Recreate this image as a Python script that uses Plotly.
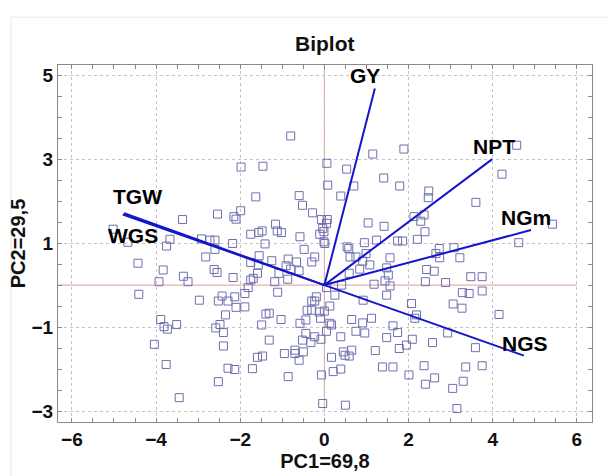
import plotly.graph_objects as go

# Scores (PC1, PC2)
pc1 = [-0.80,-1.98,-1.46,0.06,0.53,1.15,1.89,1.41,1.79,0.08,0.70,4.57,4.22,
       -2.54,-3.37,-3.67,-3.75,-2.92,-2.72,-2.60,-2.60,-2.82,-4.43,-3.83,-3.35,-3.24,-3.93,-2.62,-2.55,-4.41,-2.97,-2.52,-2.43,-2.29,-5.02,-4.67,
       -1.63,-0.60,-0.52,0.39,-1.99,-2.15,-2.10,-0.28,-0.07,0.07,0.05,-0.04,-0.01,-0.11,-1.16,-1.48,-1.56,-1.75,-1.12,-1.02,-0.58,-0.01,0.01,-1.41,-2.18,-0.48,
       1.04,1.42,1.24,0.95,1.74,1.86,0.54,0.58,0.99,-1.55,-0.23,-0.30,-1.25,-0.86,-0.66,-1.75,-1.57,-0.91,-0.80,-0.60,-1.08,-1.59,-1.69,-1.75,-2.17,-0.87,-1.18,
       0.61,0.75,0.91,1.08,0.84,0.59,1.56,1.48,1.52,1.44,1.18,0.41,1.56,0.05,-1.11,-1.81,-1.89,1.48,-0.19,0.25,-0.30,-0.23,0.92,-2.13,
       2.48,2.47,3.60,2.13,2.37,2.29,2.39,2.21,5.42,4.62,2.73,3.08,2.65,2.74,3.22,2.43,2.61,3.48,3.75,2.40,2.88,3.28,3.44,3.75,2.07,3.06,
       -3.89,-3.81,-3.73,-3.51,-4.04,-3.76,-3.45,-2.35,-2.48,-2.58,-2.40,-2.40,-2.29,-2.52,
       -2.13,-2.10,-1.89,-1.39,-1.31,-1.49,-1.03,-0.58,-0.44,-0.41,-0.30,-0.12,0.00,0.13,-0.09,0.13,0.17,0.05,-0.44,-0.23,-0.52,-0.32,-0.08,-1.31,
       0.65,0.39,0.91,1.12,0.75,0.96,1.63,1.74,1.48,1.95,1.78,-0.95,-0.70,-0.70,-0.50,-0.60,-1.59,-1.47,0.17,0.45,0.65,0.49,0.59,1.21,
       -1.71,-0.86,-0.07,0.21,0.39,1.38,1.63,2.01,-0.04,0.50,
       3.27,4.15,2.19,2.15,2.93,2.09,2.57,3.59,2.37,3.36,3.75,2.62,2.40,3.30,3.05,3.15]
pc2 = [3.55,2.81,2.83,2.90,2.76,3.12,3.24,2.55,2.36,2.38,2.36,3.33,2.64,
       1.69,1.56,1.09,0.93,1.10,1.07,1.07,0.85,0.67,0.52,0.36,0.21,0.08,0.08,0.37,0.30,-0.22,-0.36,-0.38,-0.26,-0.38,1.33,1.02,
       2.10,2.13,1.90,2.12,1.77,1.63,1.57,1.72,1.56,1.56,1.47,1.35,1.27,1.21,1.45,1.29,1.25,1.21,1.29,1.25,1.15,1.03,0.99,0.98,0.99,0.85,
       1.48,1.40,1.07,1.01,1.05,1.05,0.91,0.87,0.75,0.70,0.67,0.55,0.58,0.62,0.55,0.54,0.48,0.46,0.38,0.34,0.28,0.28,0.16,0.12,0.18,0.14,0.08,
       0.67,0.67,0.57,0.48,0.38,0.28,0.65,0.41,0.24,0.10,0.02,0.00,-0.02,-0.06,-0.17,-0.06,-0.20,-0.24,-0.28,-0.24,-0.38,-0.38,-0.36,-0.28,
       2.24,2.08,1.97,1.63,1.67,1.52,1.27,1.09,1.45,1.01,0.87,0.89,0.75,0.65,0.65,0.37,0.33,0.20,0.20,0.08,0.06,-0.18,-0.20,-0.14,-0.44,-0.45,
       -0.82,-0.99,-1.05,-0.94,-1.41,-1.89,-2.68,-0.71,-0.94,-1.02,-1.13,-1.45,-1.98,-2.30,
       -2.01,-0.53,-0.52,-0.69,-0.67,-0.95,-0.82,-0.91,-0.83,-0.60,-0.60,-0.64,-0.62,-0.50,-0.79,-0.91,-0.95,-1.10,-1.15,-1.23,-1.31,-1.37,-1.29,-1.31,
       -0.82,-1.23,-0.90,-0.79,-1.10,-1.14,-0.97,-1.13,-1.25,-1.43,-1.51,-1.63,-1.55,-1.63,-1.59,-1.79,-1.72,-1.69,-1.72,-1.59,-1.55,-1.67,-1.69,-1.56,
       -1.99,-2.18,-2.14,-2.06,-2.00,-1.95,-1.95,-2.14,-2.82,-2.86,
       -0.55,-0.70,-0.71,-0.79,-1.14,-1.29,-1.37,-1.49,-1.92,-1.95,-1.92,-2.21,-2.36,-2.29,-2.46,-2.94]

# Loadings (variable vectors)
var_names = ["GY", "NPT", "NGm", "NGS", "TGW", "WGS"]
load_pc1 = [1.20, 3.99, 4.91, 4.74, -4.76, -4.79]
load_pc2 = [4.68, 3.00, 1.31, -1.68, 1.71, 1.68]
# label anchor positions
lab_pc1 = [0.96, 4.02, 4.80, 4.76, -4.45, -4.55]
lab_pc2 = [5.00, 3.30, 1.60, -1.38, 2.12, 1.17]

x_ticks = [-6, -4, -2, 0, 2, 4, 6]
y_ticks = [-3, -1, 1, 3, 5]

FONT = "Liberation Sans, Arial"

fig = go.Figure()
fig.add_trace(go.Scatter(
    x=pc1, y=pc2, mode="markers",
    marker=dict(symbol="square-open", size=8, color="#6f6fb0", line=dict(width=1)),
    showlegend=False, hoverinfo="skip"))

for i, n in enumerate(var_names):
    fig.add_trace(go.Scatter(
        x=[0, load_pc1[i]], y=[0, load_pc2[i]], mode="lines",
        line=dict(color="#1515cc", width=2), showlegend=False, hoverinfo="skip"))
    fig.add_annotation(x=lab_pc1[i], y=lab_pc2[i], text=n, showarrow=False,
                       font=dict(family=FONT, size=21, color="black", weight="bold"))

xr = [-6.33, 6.36]
yr = [-3.26, 5.24]

shapes = [
    dict(type="line", xref="x", yref="y", x0=xr[0], x1=6, y0=0, y1=0,
         line=dict(color="#e09a9a", width=1), layer="below"),
    dict(type="line", xref="x", yref="y", x0=0, x1=0, y0=-3, y1=yr[1],
         line=dict(color="#e09a9a", width=1), layer="below"),
    dict(type="rect", xref="paper", yref="paper", x0=-0.088, x1=1.05, y0=-0.2, y1=1.134,
         line=dict(color="#e6e6e6", width=1), layer="below"),
]

axis_common = dict(
    automargin=False,
    showgrid=True, gridcolor="#c4c4c4", griddash="dot", gridwidth=1,
    zeroline=False, showline=True, linecolor="#8a8a8a", linewidth=1, mirror="ticks",
    ticks="inside", ticklen=4, tickcolor="#8a8a8a",
    tickfont=dict(family=FONT, size=19, color="#111", weight="bold"),
    minor=dict(dtick=0.5, ticks="inside", ticklen=4, tickcolor="#8a8a8a", showgrid=False),
)

fig.update_layout(
    width=607, height=476,
    margin=dict(l=58, r=15, t=65, b=54),
    paper_bgcolor="white", plot_bgcolor="white",
    title=dict(text="Biplot", x=0.535, xanchor="center", y=0.909, yanchor="middle",
               font=dict(family=FONT, size=21, color="#111", weight="bold")),
    xaxis=dict(range=xr, tickvals=x_ticks, minor_tick0=0,
               title=dict(text="PC1=69,8", standoff=2,
                          font=dict(family=FONT, size=20, color="#111", weight="bold")),
               **axis_common),
    yaxis=dict(range=yr, tickvals=y_ticks,
               title=dict(text="PC2=29,5", standoff=0,
                          font=dict(family=FONT, size=20, color="#111", weight="bold")),
               **axis_common),
    shapes=shapes,
)

fig.write_html("out.html", config={"displayModeBar": False},
               post_script="document.body.style.margin='0';document.body.style.overflow='hidden';")
